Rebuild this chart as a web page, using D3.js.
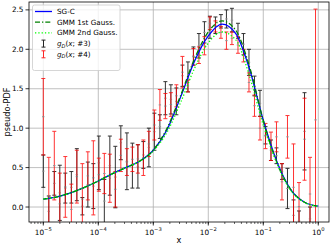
<!DOCTYPE html>
<html>
<head>
<meta charset="utf-8">
<script src="https://cdn.jsdelivr.net/npm/d3@7"></script>
<style>
  body { margin: 0; background: #fff; }
  svg { display: block; font-family: "DejaVu Sans", sans-serif; }
</style>
</head>
<body>
<div id="chart"></div>
<script>
// bin centres, as log10(x)
var binLog = [-5.00,-4.90,-4.80,-4.70,-4.60,-4.49,-4.39,-4.29,-4.19,-4.09,
  -3.99,-3.89,-3.79,-3.69,-3.59,-3.48,-3.38,-3.28,-3.18,-3.08,
  -2.98,-2.88,-2.78,-2.68,-2.58,-2.47,-2.37,-2.27,-2.17,-2.07,
  -1.97,-1.87,-1.77,-1.67,-1.57,-1.46,-1.36,-1.26,-1.16,-1.06,
  -0.96,-0.86,-0.76,-0.66,-0.56,-0.45,-0.35,-0.25,-0.15,-0.05]

// g_D(x; #3)
var blackLo = [0.25,-0.25,0.15,-0.17,0.05,0.05,0.08,-0.10,0.00,-0.02,
  0.22,-0.20,0.15,-0.01,0.60,0.22,0.24,0.24,0.49,0.51,
  0.72,0.87,1.17,1.18,1.17,1.53,1.46,1.80,1.89,2.08,
  2.14,2.20,2.27,2.27,2.22,2.14,1.93,1.67,1.41,1.15,
  0.80,0.59,0.55,0.35,-0.02,-0.30,-0.30,0.47,-0.30,-0.40]
var blackHi = [0.66,0.14,0.45,0.53,0.43,0.45,0.74,0.12,0.57,0.55,
  0.90,0.35,0.90,0.77,1.03,0.94,0.81,0.79,0.83,1.00,
  1.19,1.17,1.59,1.55,1.51,1.80,1.84,2.03,2.20,2.35,
  2.42,2.41,2.44,2.50,2.52,2.33,2.20,2.00,1.66,1.48,
  1.02,0.85,0.75,0.55,0.49,0.09,-0.05,1.45,0.00,-0.25]

// g_D(x; #4)
var redLo = [0.66,-0.35,0.09,-0.35,-0.13,-0.35,0.05,-0.35,0.09,-0.10,
  0.20,0.17,0.06,0.00,0.45,0.40,0.45,0.43,0.40,0.64,
  0.85,1.10,1.12,1.15,1.27,1.51,1.46,1.80,1.82,1.93,
  2.25,2.22,2.14,2.00,2.06,1.95,1.84,1.46,1.15,0.85,
  0.74,0.59,0.70,0.09,0.62,-0.30,-0.30,0.34,-0.30,-0.30]
var redHi = [1.63,0.63,0.96,0.43,0.64,0.29,0.72,0.55,0.70,0.84,
  0.62,0.68,0.67,0.45,0.86,0.74,0.76,0.79,0.85,0.96,
  1.23,1.49,1.44,1.45,1.55,1.91,1.61,2.01,2.03,2.16,
  2.41,2.36,2.29,2.22,2.22,2.16,2.00,1.70,1.42,1.15,
  1.06,0.95,1.08,0.55,1.16,0.80,0.31,1.38,0.63,2.51]

// fitted curves, log10(x) grid
var curveLog = [-5.00,-4.75,-4.50,-4.25,-4.00,-3.75,-3.50,-3.25,-3.00,-2.75,
  -2.50,-2.25,-2.00,-1.75,-1.50,-1.25,-1.00,-0.75,-0.50,-0.25,0.00]
var sgc = [0.10,0.13,0.18,0.25,0.33,0.42,0.50,0.58,0.72,0.98,
  1.40,1.85,2.17,2.32,2.20,1.75,1.10,0.57,0.22,0.06,0.01]
var gmm1 = [0.10,0.13,0.18,0.25,0.33,0.42,0.50,0.58,0.72,1.00,
  1.42,1.88,2.22,2.36,2.24,1.78,1.10,0.56,0.22,0.06,0.01]
var gmm2 = [0.10,0.13,0.18,0.25,0.33,0.42,0.50,0.58,0.71,0.95,
  1.33,1.76,2.08,2.22,2.12,1.66,1.04,0.55,0.21,0.06,0.01]

var yTicks = [0.0, 0.5, 1.0, 1.5, 2.0, 2.5]
var xTickExp = [-5, -4, -3, -2, -1, 0]

var width = 332, height = 249
var mLeft = 29, mRight = 329, mTop = 2, mBottom = 222

var svg = d3.select("#chart").append("svg")
  .attr("width", width)
  .attr("height", height)

var x = d3.scaleLog().domain([Math.pow(10, -5.26), Math.pow(10, 0.195)]).range([mLeft, mRight])
var y = d3.scaleLinear().domain([-0.19, 2.6]).range([mBottom, mTop])

svg.append("clipPath").attr("id", "clip")
  .append("rect").attr("x", mLeft).attr("y", mTop)
  .attr("width", mRight - mLeft).attr("height", mBottom - mTop)

// grid
var grid = svg.append("g").attr("stroke", "#b0b0b0").attr("stroke-width", 0.8)
xTickExp.forEach(function (e) {
  var px = x(Math.pow(10, e))
  grid.append("line").attr("x1", px).attr("x2", px).attr("y1", mTop).attr("y2", mBottom)
})
yTicks.forEach(function (v) {
  grid.append("line").attr("x1", mLeft).attr("x2", mRight).attr("y1", y(v)).attr("y2", y(v))
})

var plot = svg.append("g").attr("clip-path", "url(#clip)")

// error bars
function errorbars(lo, hi, color, op) {
  var g = plot.append("g").attr("stroke", color).attr("stroke-width", 1).attr("opacity", op)
  binLog.forEach(function (u, i) {
    var px = x(Math.pow(10, u))
    var y1 = y(lo[i]), y2 = y(hi[i]), ym = y((lo[i] + hi[i]) / 2)
    g.append("line").attr("x1", px).attr("x2", px).attr("y1", y1).attr("y2", y2)
    g.append("line").attr("x1", px - 2).attr("x2", px + 2).attr("y1", y1).attr("y2", y1)
    g.append("line").attr("x1", px - 2).attr("x2", px + 2).attr("y1", y2).attr("y2", y2)
    g.append("line").attr("x1", px - 1.2).attr("x2", px + 1.2).attr("y1", ym).attr("y2", ym)
      .attr("stroke", "#777")
  })
}
errorbars(blackLo, blackHi, "#000", 0.8)
errorbars(redLo, redHi, "#ff0000", 0.8)

// curves
var line = d3.line()
  .x(function (d) { return x(Math.pow(10, d[0])) })
  .y(function (d) { return y(d[1]) })
  .curve(d3.curveMonotoneX)

function pairs(vals) { return curveLog.map(function (u, i) { return [u, vals[i]] }) }

plot.append("path").datum(pairs(sgc)).attr("d", line)
  .attr("fill", "none").attr("stroke", "#0000ff").attr("stroke-width", 1.3)
plot.append("path").datum(pairs(gmm1)).attr("d", line)
  .attr("fill", "none").attr("stroke", "#008000").attr("stroke-width", 1.3)
  .attr("stroke-dasharray", "5,2,1.3,2")
plot.append("path").datum(pairs(gmm2)).attr("d", line)
  .attr("fill", "none").attr("stroke", "#00ff00").attr("stroke-width", 1.3)
  .attr("stroke-dasharray", "1.3,2")

// frame
svg.append("rect").attr("x", mLeft).attr("y", mTop)
  .attr("width", mRight - mLeft).attr("height", mBottom - mTop)
  .attr("fill", "none").attr("stroke", "#000").attr("stroke-width", 0.8)

// y axis
var yAxis = svg.append("g")
yTicks.forEach(function (v) {
  yAxis.append("line").attr("x1", mLeft - 3.5).attr("x2", mLeft).attr("y1", y(v)).attr("y2", y(v))
    .attr("stroke", "#000").attr("stroke-width", 0.8)
  yAxis.append("text").attr("x", mLeft - 5.5).attr("y", y(v)).attr("dy", "0.35em")
    .attr("text-anchor", "end").attr("font-size", 7.3).text(v.toFixed(1))
})

// x axis (log, with minor ticks)
var xAxis = svg.append("g")
xTickExp.forEach(function (e) {
  var px = x(Math.pow(10, e))
  xAxis.append("line").attr("x1", px).attr("x2", px).attr("y1", mBottom).attr("y2", mBottom + 3.5)
    .attr("stroke", "#000").attr("stroke-width", 0.8)
  var t = xAxis.append("text").attr("x", px).attr("y", mBottom + 12.5)
    .attr("text-anchor", "middle").attr("font-size", 7.3)
  t.append("tspan").text("10")
  t.append("tspan").attr("dy", -3.2).attr("font-size", 5.2)
    .text(e === 0 ? "0" : "\u2212" + Math.abs(e))
})
x.ticks().forEach(function (v) {
  var px = x(v)
  if (px < mLeft || px > mRight) return
  xAxis.append("line").attr("x1", px).attr("x2", px).attr("y1", mBottom).attr("y2", mBottom + 2)
    .attr("stroke", "#000").attr("stroke-width", 0.6)
})

svg.append("text").attr("x", (mLeft + mRight) / 2).attr("y", 243)
  .attr("text-anchor", "middle").attr("font-size", 8.2).text("x")
svg.append("text").attr("transform", "translate(10," + ((mTop + mBottom) / 2) + ") rotate(-90)")
  .attr("text-anchor", "middle").attr("font-size", 8.2).text("pseudo-PDF")

// legend
var leg = svg.append("g")
leg.append("rect").attr("x", 32.5).attr("y", 5).attr("width", 87.5).attr("height", 65.5)
  .attr("rx", 2).attr("fill", "#fff").attr("fill-opacity", 0.8)
  .attr("stroke", "#cccccc").attr("stroke-width", 0.8)

var legItems = [
  { label: "SG-C", kind: "line", color: "#0000ff", dash: null },
  { label: "GMM 1st Gauss.", kind: "line", color: "#008000", dash: "5,2,1.3,2" },
  { label: "GMM 2nd Gauss.", kind: "line", color: "#00ff00", dash: "1.3,2" },
  { label: "#3", kind: "err", color: "#000" },
  { label: "#4", kind: "err", color: "#ff0000" }
]
legItems.forEach(function (d, i) {
  var ly = 11.5 + i * 10.7
  if (d.kind === "line") {
    leg.append("line").attr("x1", 35).attr("x2", 52).attr("y1", ly).attr("y2", ly)
      .attr("stroke", d.color).attr("stroke-width", 1.3).attr("stroke-dasharray", d.dash)
    leg.append("text").attr("x", 57).attr("y", ly).attr("dy", "0.35em")
      .attr("font-size", 7.2).text(d.label)
  } else {
    var g = leg.append("g").attr("stroke", d.color).attr("stroke-width", 1).attr("opacity", 0.85)
    g.append("line").attr("x1", 43.5).attr("x2", 43.5).attr("y1", ly - 3.5).attr("y2", ly + 3.5)
    g.append("line").attr("x1", 41.5).attr("x2", 45.5).attr("y1", ly - 3.5).attr("y2", ly - 3.5)
    g.append("line").attr("x1", 41.5).attr("x2", 45.5).attr("y1", ly + 3.5).attr("y2", ly + 3.5)
    var t = leg.append("text").attr("x", 57).attr("y", ly).attr("dy", "0.35em").attr("font-size", 7.2)
    t.append("tspan").attr("font-style", "italic").text("g")
    t.append("tspan").attr("font-style", "italic").attr("font-size", 5).attr("dy", 1.5).text("D")
    t.append("tspan").attr("dy", -1.5).text("(")
    t.append("tspan").attr("font-style", "italic").text("x")
    t.append("tspan").text("; " + d.label + ")")
  }
})
</script>
</body>
</html>
